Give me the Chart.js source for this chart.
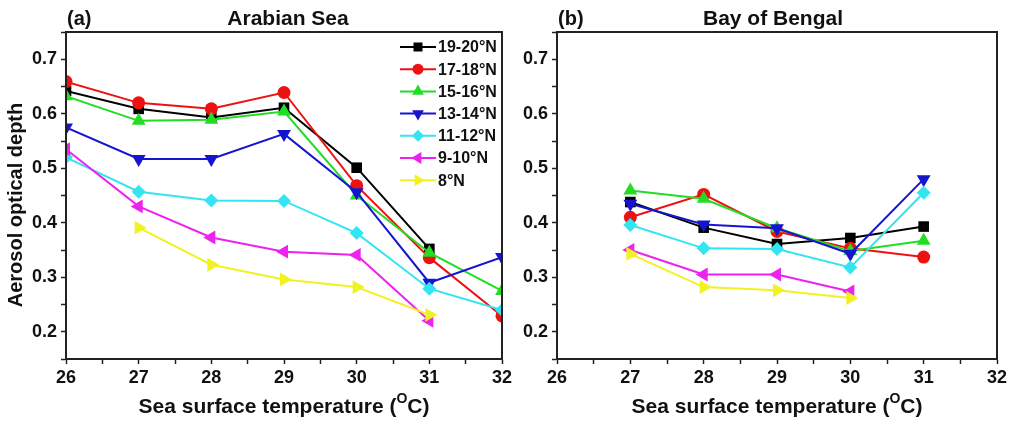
<!DOCTYPE html>
<html>
<head>
<meta charset="utf-8">
<script src="https://cdn.jsdelivr.net/npm/chart.js@4.4.1/dist/chart.umd.min.js"></script>
<style>
  html, body { margin: 0; padding: 0; background: #fff; }
  #wrap { position: relative; width: 1011px; height: 425px; }
  .box { position: absolute; top: 0; height: 425px; }
  #boxA { left: 0; width: 512px; }
  #boxB { left: 512px; width: 499px; }
</style>
</head>
<body>
<div id="wrap">
  <div class="box" id="boxA"><canvas id="chartA"></canvas></div>
  <div class="box" id="boxB"><canvas id="chartB"></canvas></div>
</div>
<script>
// x values (sea surface temperature, deg C)
const sstA = [26, 27, 28, 29, 30, 31, 32];
const sstB = [27, 28, 29, 30, 31];

const seriesNames = ["19-20°N", "17-18°N", "15-16°N", "13-14°N", "11-12°N", "9-10°N", "8°N"];

// Arabian Sea AOD
const as19_20 = [0.642, 0.609, 0.593, 0.611, 0.501, 0.352, null];
const as17_18 = [0.659, 0.620, 0.609, 0.639, 0.468, 0.336, 0.229];
const as15_16 = [0.632, 0.587, 0.589, 0.604, 0.450, 0.345, 0.275];
const as13_14 = [0.575, 0.517, 0.517, 0.563, 0.456, 0.290, 0.337];
const as11_12 = [0.520, 0.457, 0.441, 0.440, 0.381, 0.279, 0.240];
const as9_10  = [0.535, 0.430, 0.373, 0.347, 0.341, 0.220, null];
const as8     = [null, 0.391, 0.323, 0.296, 0.282, 0.231, null];

// Bay of Bengal AOD
const bb19_20 = [0.438, 0.391, 0.361, 0.372, 0.393];
const bb17_18 = [0.410, 0.452, 0.384, 0.353, 0.337];
const bb15_16 = [0.459, 0.444, 0.390, 0.348, 0.367];
const bb13_14 = [0.435, 0.397, 0.390, 0.343, 0.480];
const bb11_12 = [0.396, 0.353, 0.352, 0.318, 0.455];
const bb9_10  = [0.350, 0.305, 0.305, 0.274, null];
const bb8     = [0.343, 0.282, 0.276, 0.262, null];

const colors = ["#000000", "#ee1111", "#22dd22", "#1515d0", "#33e4f2", "#ee22ee", "#f2f222"];
const styles = [
  { pointStyle: "rect", rotation: 0, radius: 7.5 },
  { pointStyle: "circle", rotation: 0, radius: 6.5 },
  { pointStyle: "triangle", rotation: 0, radius: 8 },
  { pointStyle: "triangle", rotation: 180, radius: 8 },
  { pointStyle: "rectRot", rotation: 0, radius: 7 },
  { pointStyle: "triangle", rotation: 270, radius: 8 },
  { pointStyle: "triangle", rotation: 90, radius: 8 }
];

const FONT = "'Liberation Sans', Arial, sans-serif";

function makeDatasets(xs, lists) {
  return lists.map((vals, i) => ({
    label: seriesNames[i],
    data: xs.map((x, j) => ({ x: x, y: vals[j] })),
    borderColor: colors[i],
    backgroundColor: colors[i],
    borderWidth: 2,
    pointStyle: styles[i].pointStyle,
    pointRotation: styles[i].rotation,
    pointRadius: styles[i].radius,
    pointBorderWidth: 0,
    spanGaps: false,
    order: lists.length - i
  }));
}

function labelTick(v, step) {
  const r = Math.round(v / step);
  return Math.abs(v / step - r) < 1e-6;
}

// frame, titles, axis titles, legend
const decorPlugin = {
  id: "decor",
  afterDraw(chart, args, opts) {
    const ctx = chart.ctx;
    const a = chart.chartArea;
    ctx.save();
    ctx.strokeStyle = "#222";
    ctx.lineWidth = 2;
    ctx.strokeRect(a.left, a.top, a.right - a.left, a.bottom - a.top);

    ctx.fillStyle = "#111";
    ctx.textBaseline = "middle";
    ctx.font = "bold 20px " + FONT;
    ctx.textAlign = "left";
    ctx.fillText(opts.tag, a.left + 1, 19);
    ctx.font = "bold 21px " + FONT;
    ctx.textAlign = "center";
    ctx.fillText(opts.title, opts.titleX, 19);

    // x title with superscript O
    const big = "bold 21px " + FONT;
    const small = "bold 14px " + FONT;
    const p1 = "Sea surface temperature (";
    const p2 = "O";
    const p3 = "C)";
    ctx.font = big;
    const w1 = ctx.measureText(p1).width;
    const w3 = ctx.measureText(p3).width;
    ctx.font = small;
    const w2 = ctx.measureText(p2).width;
    const total = w1 + w2 + w3;
    let x = (a.left + a.right) / 2 - total / 2;
    const y = 407;
    ctx.textAlign = "left";
    ctx.font = big;
    ctx.fillText(p1, x, y);
    x += w1;
    ctx.font = small;
    ctx.fillText(p2, x, y - 8);
    x += w2;
    ctx.font = big;
    ctx.fillText(p3, x, y);

    if (opts.yTitle) {
      ctx.save();
      ctx.translate(16, 205);
      ctx.rotate(-Math.PI / 2);
      ctx.font = "bold 20px " + FONT;
      ctx.textAlign = "center";
      ctx.fillText("Aerosol optical depth", 0, 0);
      ctx.restore();
    }

    if (opts.legend) {
      const helpers = Chart.helpers;
      chart.data.datasets.forEach((ds, i) => {
        const ly = 47 + i * 22.2;
        const lx = 400;
        ctx.strokeStyle = ds.borderColor;
        ctx.lineWidth = 2;
        ctx.beginPath();
        ctx.moveTo(lx, ly);
        ctx.lineTo(lx + 36, ly);
        ctx.stroke();
        ctx.fillStyle = ds.backgroundColor;
        if (helpers && helpers.drawPoint) {
          helpers.drawPoint(ctx, {
            pointStyle: ds.pointStyle,
            rotation: ds.pointRotation,
            radius: ds.pointRadius * 0.85,
            borderWidth: 0
          }, lx + 18, ly);
        }
        ctx.fillStyle = "#111";
        ctx.font = "bold 16px " + FONT;
        ctx.textAlign = "left";
        ctx.fillText(ds.label, lx + 38, ly + 1);
      });
    }
    ctx.restore();
  }
};

function makeChart(id, datasets, cfg) {
  return new Chart(document.getElementById(id), {
    type: "line",
    data: { datasets: datasets },
    plugins: [decorPlugin],
    options: {
      responsive: true,
      maintainAspectRatio: false,
      animation: false,
      layout: { padding: { top: 32, right: cfg.padRight, left: 0, bottom: 0 } },
      plugins: {
        legend: { display: false },
        tooltip: { enabled: false },
        decor: { tag: cfg.tag, title: cfg.title, titleX: cfg.titleX, legend: cfg.legend, yTitle: cfg.yTitle }
      },
      scales: {
        x: {
          type: "linear",
          min: 26,
          max: 32,
          afterFit: (s) => { s.height = 66; s.paddingLeft = 0; s.paddingRight = 0; },
          border: { display: true, color: "#222", width: 2 },
          grid: { drawOnChartArea: false, drawTicks: true, tickLength: 5, tickColor: "#222", tickWidth: 1.5 },
          ticks: {
            stepSize: 0.5,
            autoSkip: false,
            maxRotation: 0,
            padding: 3,
            color: "#111",
            font: { family: FONT, size: 18, weight: "bold" },
            callback: (v) => labelTick(v, 1) ? String(Math.round(v)) : ""
          }
        },
        y: {
          min: 0.15,
          max: 0.75,
          afterFit: (s) => { s.width = cfg.yWidth; s.paddingTop = 0; s.paddingBottom = 0; },
          border: { display: true, color: "#222", width: 2 },
          grid: { drawOnChartArea: false, drawTicks: true, tickLength: 5, tickColor: "#222", tickWidth: 1.5 },
          ticks: {
            stepSize: 0.05,
            autoSkip: false,
            padding: 4,
            color: "#111",
            font: { family: FONT, size: 18, weight: "bold" },
            callback: (v) => labelTick(v, 0.1) ? v.toFixed(1) : ""
          }
        }
      }
    }
  });
}

makeChart("chartA",
  makeDatasets(sstA, [as19_20, as17_18, as15_16, as13_14, as11_12, as9_10, as8]),
  { padRight: 10, yWidth: 66, yTitle: true, tag: "(a)", title: "Arabian Sea", titleX: 288, legend: true });

makeChart("chartB",
  makeDatasets(sstB, [bb19_20, bb17_18, bb15_16, bb13_14, bb11_12, bb9_10, bb8]),
  { padRight: 14, yWidth: 45, yTitle: false, tag: "(b)", title: "Bay of Bengal", titleX: 261, legend: false });
</script>
</body>
</html>
